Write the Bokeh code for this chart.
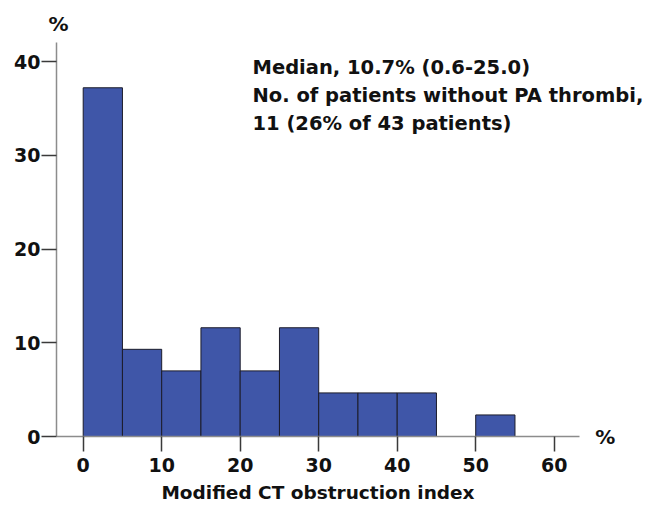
from bokeh.plotting import figure
from bokeh.models import ColumnDataSource, Label, Range1d, FixedTicker
from bokeh.embed import file_html
from bokeh.resources import INLINE

# Data: histogram of modified CT obstruction index (% of 43 patients)
bin_left = [0, 5, 10, 15, 20, 25, 30, 35, 40, 45, 50]
bin_right = [5, 10, 15, 20, 25, 30, 35, 40, 45, 50, 55]
percent = [37.2, 9.3, 7.0, 11.6, 7.0, 11.6, 4.65, 4.65, 4.65, 0.0, 2.3]
x_ticks = [0, 10, 20, 30, 40, 50, 60]
y_ticks = [0, 10, 20, 30, 40]
x_title = "Modified CT obstruction index"
unit_text = "%"
annotation_lines = [
    "Median, 10.7% (0.6-25.0)",
    "No. of patients without PA thrombi,",
    "11 (26% of 43 patients)",
]

FONT = "DejaVu Sans"
TXT = "#111111"
keep = [i for i, v in enumerate(percent) if v > 0]
src = ColumnDataSource(dict(
    left=[bin_left[i] for i in keep],
    right=[bin_right[i] for i in keep],
    top=[percent[i] for i in keep],
    bottom=[0] * len(keep),
))

p = figure(width=654, height=508, output_backend="svg", toolbar_location=None,
           x_range=Range1d(-3.40, 63.22), y_range=Range1d(0, 42.03),
           min_border_left=56, min_border_right=75, min_border_top=42,
           min_border_bottom=72)
p.outline_line_color = None
p.xgrid.visible = False
p.ygrid.visible = False
p.background_fill_color = "white"
p.border_fill_color = "white"

p.quad(left="left", right="right", top="top", bottom="bottom", source=src,
       fill_color="#3F56A8", line_color="#1c1c2a", line_width=1)

for ax in (p.xaxis[0], p.yaxis[0]):
    ax.axis_line_color = "#8c8c8c"
    ax.axis_line_width = 1.5
    ax.major_tick_line_color = "#3a3a3a"
    ax.major_tick_line_width = 1.5
    ax.major_tick_out = 15
    ax.major_tick_in = 0
    ax.minor_tick_line_color = None
    ax.major_label_text_font = FONT
    ax.major_label_text_font_style = "bold"
    ax.major_label_text_font_size = "19px"
    ax.major_label_text_color = TXT

p.xaxis.ticker = FixedTicker(ticks=x_ticks)
p.yaxis.ticker = FixedTicker(ticks=y_ticks)
p.xaxis.major_label_standoff = 6
p.yaxis.major_label_standoff = 1
p.xaxis.axis_label = x_title
p.xaxis.axis_label_text_font = FONT
p.xaxis.axis_label_text_font_style = "bold"
p.xaxis.axis_label_text_font_size = "18.5px"
p.xaxis.axis_label_text_color = TXT
p.xaxis.axis_label_standoff = 7


def add_text(x, y, text, size, align, baseline, place="center"):
    # Labels put in a side panel are drawn without clipping to the plot frame
    p.add_layout(Label(x=x, y=y, text=text, text_font=FONT, text_font_style="bold",
                       text_font_size=size, text_align=align,
                       text_baseline=baseline, text_color=TXT), place)


# "%" unit markers (outside the frame)
add_text(-3.15, 44.05, unit_text, "20px", "center", "middle", "right")
add_text(66.5, -0.1, unit_text, "20px", "center", "middle", "right")

# Annotation text (second line runs past the frame's right edge)
ann_x = 21.57
ann_y = [39.36, 36.38, 33.40]
for i, (t, yy) in enumerate(zip(annotation_lines, ann_y)):
    add_text(ann_x, yy, t, "19.5px", "left", "alphabetic",
             "above" if i == 1 else "center")

open("out.html", "w").write(file_html(p, INLINE))
